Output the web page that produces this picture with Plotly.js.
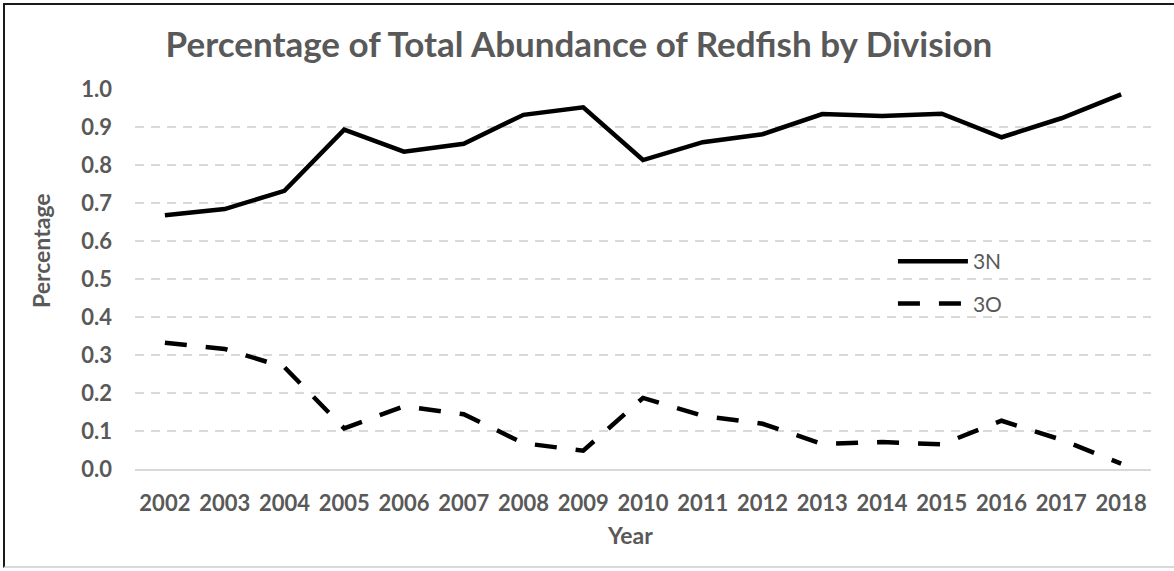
<!DOCTYPE html>
<html>
<head>
<meta charset="utf-8">
<script src="https://cdn.plot.ly/plotly-3.0.1.min.js"></script>
<style>
  html, body { margin: 0; padding: 0; background: #ffffff; }
  #wrap { position: relative; width: 1174px; height: 571px; }
  #chart { position: absolute; left: 0; top: 0; width: 1174px; height: 571px; }
  /* chart frame: dark on the left and top, light grey along the bottom */
  #frame {
    position: absolute; left: 3px; top: 3px; width: 1180px; height: 565px;
    border-left: 2px solid #1a1a1a; border-top: 2px solid #1a1a1a;
    border-bottom: 2px solid #d9d9d9; pointer-events: none; box-sizing: border-box;
  }
</style>
</head>
<body>
<div id="wrap">
  <div id="chart"></div>
  <div id="frame"></div>
</div>
<script>
// Survey years
const years = ['2002', '2003', '2004', '2005', '2006', '2007', '2008', '2009',
               '2010', '2011', '2012', '2013', '2014', '2015', '2016', '2017', '2018'];

// Share of total redfish abundance in Division 3N
const share3N = [0.668, 0.684, 0.732, 0.893, 0.835, 0.856, 0.932, 0.952,
                 0.813, 0.860, 0.881, 0.934, 0.929, 0.935, 0.873, 0.923, 0.986];

// Share of total redfish abundance in Division 3O
const share3O = [0.332, 0.316, 0.268, 0.107, 0.165, 0.144, 0.068, 0.048,
                 0.187, 0.140, 0.119, 0.066, 0.071, 0.065, 0.127, 0.077, 0.014];

// Y axis tick values and labels
const yTicks = [0, 0.1, 0.2, 0.3, 0.4, 0.5, 0.6, 0.7, 0.8, 0.9, 1.0];
const yTickText = ['0.0', '0.1', '0.2', '0.3', '0.4', '0.5', '0.6', '0.7', '0.8', '0.9', '1.0'];

const FONT = 'Lato, "Open Sans", "DejaVu Sans", sans-serif';
const GREY = '#595959';

const traces = [
  {
    x: years, y: share3N, name: '3N', type: 'scatter', mode: 'lines',
    line: { color: '#000000', width: 4.5 },
    legendgroup: 'a'
  },
  {
    x: years, y: share3O, name: '3O', type: 'scatter', mode: 'lines',
    line: { color: '#000000', width: 4.5, dash: '22px,19px' },
    legendgroup: 'b'
  }
];

const layout = {
  width: 1174, height: 571,
  margin: { l: 135, r: 23, t: 89, b: 102 },
  paper_bgcolor: '#ffffff', plot_bgcolor: '#ffffff',
  font: { family: FONT, color: GREY },
  title: {
    text: 'Percentage of Total Abundance of Redfish by Division',
    font: { family: FONT, size: 35, color: GREY, weight: 'bold' },
    x: 0.437, xanchor: 'center', xref: 'paper',
    y: 0.921, yanchor: 'middle', yref: 'container'
  },
  xaxis: {
    type: 'category',
    range: [-0.5, 16.5],
    showgrid: false,
    showline: true, linecolor: '#d9d9d9', linewidth: 2,
    ticks: '', ticklabelstandoff: 14,
    tickfont: { family: FONT, size: 22, color: GREY, weight: 'bold' },
    fixedrange: true
  },
  yaxis: {
    range: [0, 1],
    tickvals: yTicks, ticktext: yTickText,
    showgrid: true, gridcolor: '#d9d9d9', gridwidth: 1.6, griddash: '9px,7px',
    zeroline: false, showline: false,
    ticks: '', ticklabelstandoff: 22,
    tickfont: { family: FONT, size: 22, color: GREY, weight: 'bold' },
    fixedrange: true
  },
  legend: {
    x: 0.746, y: 0.6, xanchor: 'left', yanchor: 'top',
    bgcolor: 'rgba(0,0,0,0)',
    font: { family: FONT, size: 21, color: GREY },
    itemwidth: 70, tracegroupgap: 12, traceorder: 'grouped'
  },
  annotations: [
    {
      text: 'Year', showarrow: false,
      xref: 'paper', yref: 'paper', x: 0.487, y: -0.174,
      xanchor: 'center', yanchor: 'middle',
      font: { family: FONT, size: 23, color: GREY, weight: 'bold' }
    },
    {
      text: 'Percentage', showarrow: false, textangle: -90,
      xref: 'paper', yref: 'paper', x: -0.093, y: 0.575,
      xanchor: 'center', yanchor: 'middle',
      font: { family: FONT, size: 23, color: GREY, weight: 'bold' }
    }
  ],
  showlegend: true
};

Plotly.newPlot('chart', traces, layout, { displayModeBar: false, staticPlot: true });
</script>
</body>
</html>
